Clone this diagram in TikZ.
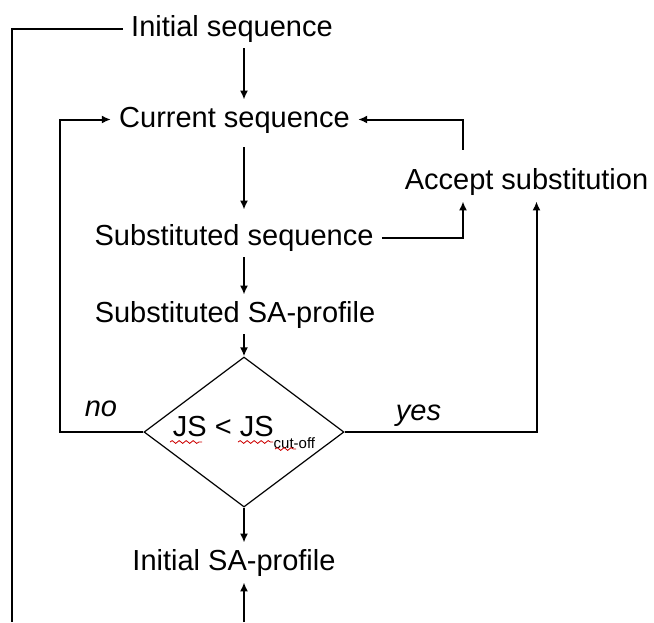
\documentclass[tikz,border=0pt]{standalone}
\usepackage{fontspec}
\setmainfont{Liberation Sans}
\usetikzlibrary{shapes.geometric, arrows.meta, decorations.pathmorphing}

\begin{document}
\begin{tikzpicture}[
    x=0.5pt, y=-0.5pt,
    font=\fontsize{14.5}{17}\selectfont,
    stage/.style={inner xsep=4pt, inner ysep=3pt, text height=10.5pt, text depth=3pt, anchor=base},
    decision/.style={draw, diamond, aspect=1.333, minimum width=100pt, minimum height=75pt, inner sep=0pt, line width=0.6pt},
    arrow/.style={-{Latex[length=4.5pt,width=4pt]}, line width=1pt},
    line/.style={line width=1pt},
    squig/.style={draw=red!80!black, line width=0.4pt, decorate, decoration={snake, segment length=3.5pt, amplitude=0.7pt}}
]
    \useasboundingbox (0,0) rectangle (654,622);

    % Nodes
    \node[stage] (init) at (232,36) {Initial sequence};
    \node[stage] (cur) at (234.5,127) {Current sequence};
    \node[stage] (subseq) at (234,245) {Substituted sequence};
    \node[stage] (subsa) at (235,322) {Substituted SA-profile};
    \node[stage] (accept) at (526.5,189) {Accept substitution};
    \node[decision] (dec) at (244,432) {JS < JS\raisebox{-6pt}{\fontsize{7.5}{9}\selectfont cut-off}};
    \node[stage] (inisa) at (234,570) {Initial SA-profile};
    \node[stage] (no) at (101,416) {\itshape no};
    \node[stage] (yes) at (418.5,420) {\itshape yes};
    \coordinate (jn) at (463,0);
    \coordinate (loopL) at (60,0);
    \coordinate (lbot) at (12,622);
    \coordinate (bot) at (244,622);

    % Connections
    \draw[line] (init.west) -| (lbot);
    \draw[arrow] (init.south -| dec.north) -- (cur.north -| dec.north);
    \draw[arrow] ([yshift=-4pt]cur.south -| dec.north) -- ([yshift=4pt]subseq.north -| dec.north);
    \draw[arrow] (subseq.south -| dec.north) -- (subsa.north -| dec.north);
    \draw[arrow] (subsa.south -| dec.north) -- (dec.north);
    \draw[arrow] (dec.south) -- (inisa.north -| dec.south);
    \draw[arrow] (bot) -- (inisa.south -| bot);
    \draw[arrow] (subseq.east) -| (jn |- accept.south);
    \draw[arrow] ([yshift=6pt]jn |- accept.north) |- (cur.east);
    \draw[arrow] (dec.west) -| (loopL |- cur.west) -- (cur.west);
    \draw[arrow] (dec.east) -| ([xshift=5pt]accept.south);

    % Spell-check marks
    \draw[squig] (170,442) -- (202,442);
    \draw[squig] (238,442) -- (273,442);
    \draw[squig] (275,449) -- (296,449);
\end{tikzpicture}
\end{document}
